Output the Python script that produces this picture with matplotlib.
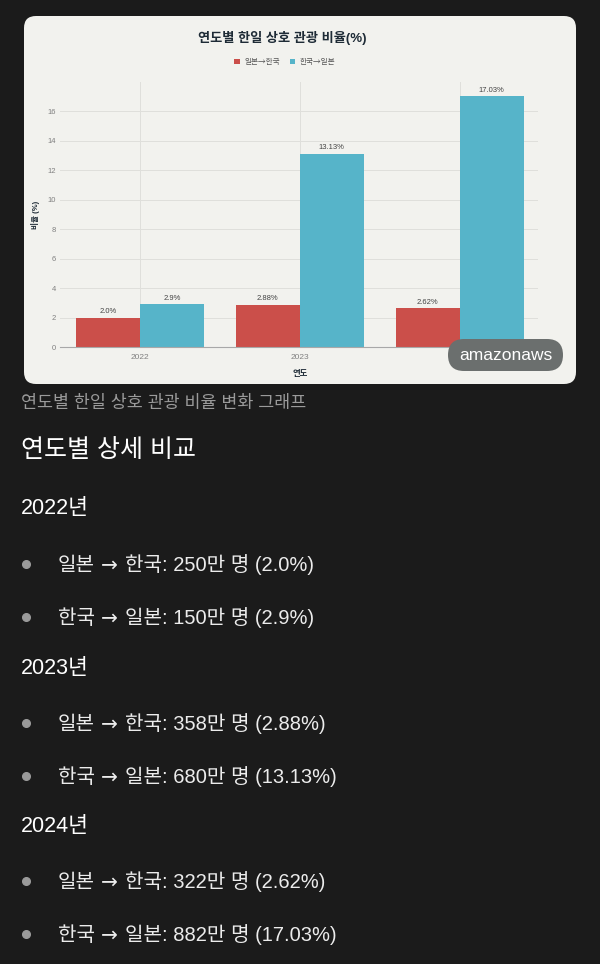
import matplotlib.pyplot as plt
import numpy as np
from matplotlib.patches import FancyBboxPatch

plt.rcParams['font.family'] = ['Liberation Sans', 'Noto Sans CJK KR', 'DejaVu Sans']

# 데이터
years = ['2022', '2023', '2024']
jp_to_kr_pct = [2.0, 2.88, 2.62]
kr_to_jp_pct = [2.9, 13.13, 17.03]
jp_to_kr_visitors = [250, 358, 322]   # 만 명
kr_to_jp_visitors = [150, 680, 882]   # 만 명

RED = '#cb4f4a'
BLUE = '#56b4c9'
CARD = '#f2f2ee'
DARK_BG = '#1b1b1b'


def fmt(v):
    s = f'{v:.2f}'.rstrip('0')
    return s + '0' if s.endswith('.') else s


W, H = 600, 964
fig = plt.figure(figsize=(W / 100, H / 100), dpi=100, facecolor=DARK_BG)
renderer = fig.canvas.get_renderer()

# 배경 (픽셀 좌표)
bg = fig.add_axes([0, 0, 1, 1], zorder=0)
bg.set_xlim(0, W)
bg.set_ylim(H, 0)
bg.axis('off')
bg.add_patch(FancyBboxPatch((24, 16), 552, 368,
                            boxstyle='round,pad=0,rounding_size=12',
                            facecolor=CARD, edgecolor='none'))

# === 막대 그래프 ===
ax = fig.add_axes([60 / W, 1 - 347 / H, 478 / W, 265 / H], zorder=1)
ax.set_facecolor('none')
x = np.arange(len(years))
bw = 0.4
b1 = ax.bar(x - bw / 2, jp_to_kr_pct, bw, color=RED, label='일본→한국', zorder=2)
b2 = ax.bar(x + bw / 2, kr_to_jp_pct, bw, color=BLUE, label='한국→일본', zorder=2)
for bars, vals in [(b1, jp_to_kr_pct), (b2, kr_to_jp_pct)]:
    ax.bar_label(bars, labels=[fmt(v) + '%' for v in vals], padding=2,
                 fontsize=5.5, color='#444444')

ax.set_xlim(-0.5, 2.49)
ax.set_ylim(0, 18)
ax.set_yticks(np.arange(0, 17, 2))
ax.set_xticks(x)
ax.set_xticklabels(years)
ax.tick_params(axis='y', length=0, labelsize=5.5, labelcolor='#808080', pad=3)
ax.tick_params(axis='x', length=0, labelsize=6, labelcolor='#808080', pad=5)
ax.grid(True, color='#dfdfdb', linewidth=0.7, zorder=0)
for s in ['top', 'right', 'left']:
    ax.spines[s].set_visible(False)
ax.spines['bottom'].set_color('#a8a8a8')
ax.spines['bottom'].set_linewidth(0.8)
ax.spines['bottom'].set_zorder(3)

bg.text(282, 38, '연도별 한일 상호 관광 비율(%)', ha='center', va='center',
        fontsize=9.5, fontweight='bold', color='#1e2b36')
bg.text(35, 215, '비율 (%)', rotation=90, ha='center', va='center',
        fontsize=5.5, fontweight='bold', color='#1e2b36')
bg.text(300, 374, '연도', ha='center', va='center',
        fontsize=6, fontweight='bold', color='#1e2b36')
fig.legend(handles=[b1, b2], loc='center', bbox_to_anchor=(285 / W, 1 - 62 / H),
           ncol=2, frameon=False, prop={'family': ['Noto Sans CJK KR'], 'size': 5.5},
           handlelength=0.7, handleheight=0.7,
           columnspacing=1.3, handletextpad=0.6, labelcolor='#555555')

# 워터마크
top = fig.add_axes([0, 0, 1, 1], zorder=3)
top.set_xlim(0, W)
top.set_ylim(H, 0)
top.axis('off')
top.patch.set_alpha(0)
top.add_patch(FancyBboxPatch((448, 339), 115, 32,
                             boxstyle='round,pad=0,rounding_size=16',
                             facecolor='#6b6f6e', edgecolor='none'))
top.text(505.5, 355, 'amazonaws', ha='center', va='center',
         fontsize=12.5, color='white')

# === 본문 텍스트 ===
bg.text(21, 403, '연도별 한일 상호 관광 비율 변화 그래프', ha='left', va='center',
        fontsize=12.5, color='#9a9a9a')
bg.text(21, 450, '연도별 상세 비교', ha='left', va='center',
        fontsize=18, color='white')


def bullet_line(x0, y_base, src, dst, n, pct):
    # 화살표만 DejaVu Sans로 그려서 높이를 맞춤
    parts = [(src, None, 0), ('→', ['DejaVu Sans'], 6), (f'{dst}: {n}만 명 ({fmt(pct)}%)', None, 7)]
    xx = x0
    for s, fam, gap in parts:
        xx += gap
        kw = {'family': fam} if fam else {}
        t = bg.text(xx, y_base, s, ha='left', va='baseline', fontsize=14.5,
                    color='#ececec', **kw)
        xx = t.get_window_extent(renderer).x1


y_pos = [[508, 563, 616], [668, 722, 775], [827, 880, 933]]
for i, yr in enumerate(years):
    yh, ya, yb = y_pos[i]
    bg.text(21, yh, f'{yr}년', ha='left', va='center', fontsize=15.5, color='white')
    for yy, src, dst, n, p in [(ya, '일본', '한국', jp_to_kr_visitors[i], jp_to_kr_pct[i]),
                               (yb, '한국', '일본', kr_to_jp_visitors[i], kr_to_jp_pct[i])]:
        bg.plot(26, yy + 1, 'o', markersize=5.5, color='#9a9a9a')
        bullet_line(58, yy + 8, src, dst, n, p)

fig.savefig('out.png', dpi=100, facecolor=DARK_BG)
